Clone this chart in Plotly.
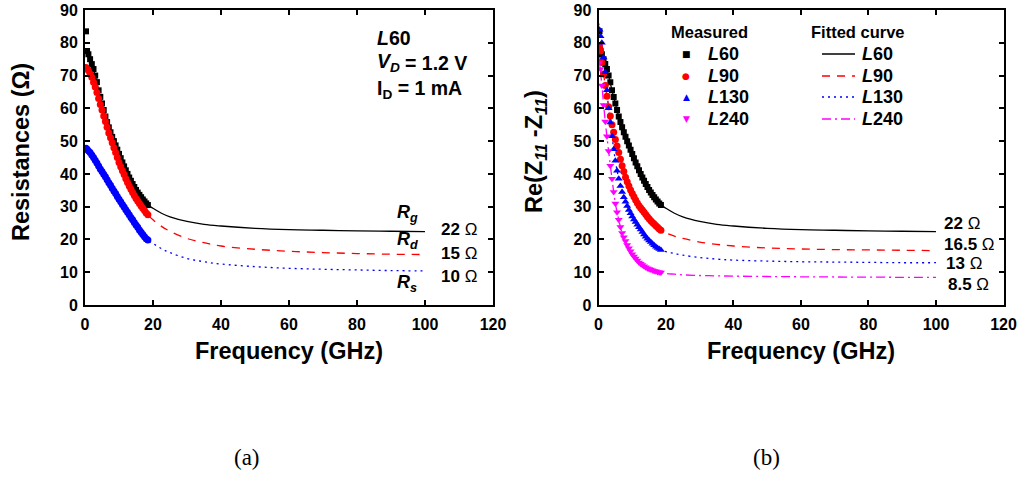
import plotly.graph_objects as go

W, H = 1025, 477

# ---- measured data (GHz, Ohm) ----
freq_meas = [0.3, 0.6] + [k * 0.5 for k in range(2, 38)]

rg_meas = [83.5, 77.5, 76.5, 75, 73.5, 72, 70, 68, 65.5, 63.5,
           61.5, 59.5, 57.5, 55.8, 54.2, 52.7, 51.3, 50, 48.7, 47.4,
           46.1, 44.8, 43.5, 42.3, 41.1, 40, 38.9, 37.9, 36.9, 36,
           35.1, 34.3, 33.6, 32.9, 32.2, 31.6, 31, 30.5]
rd_meas = [72.5, 72, 71.5, 70.5, 69.5, 68, 66.5, 64.8, 63, 61.2,
           59.5, 57.7, 56, 54.2, 52.5, 51, 49.5, 48, 46.5, 45,
           43.5, 42.2, 41, 39.8, 38.5, 37.4, 36.3, 35.3, 34.3, 33.4,
           32.5, 31.7, 31, 30.2, 29.5, 28.8, 28.1, 27.5]
rs_meas = [47.8, 47.5, 47, 46.5, 45.8, 45, 44.2, 43.3, 42.4, 41.5,
           40.7, 39.9, 39.1, 38.2, 37.3, 36.5, 35.6, 34.8, 34, 33.1,
           32.3, 31.5, 30.7, 29.9, 29.1, 28.3, 27.5, 26.7, 26, 25.2,
           24.4, 23.7, 22.9, 22.2, 21.5, 20.8, 20.2, 19.8]

l60_meas = rg_meas
l90_meas = [79, 77.5, 74, 70.5, 67, 63.7, 60.5, 57.7, 55, 52.7,
            50.5, 48.5, 46.5, 44.5, 42.5, 40.7, 39, 37.6, 36.3, 35.1,
            34, 33, 32, 31.1, 30.3, 29.6, 29, 28.3, 27.6, 26.9,
            26.3, 25.7, 25.2, 24.7, 24.2, 23.7, 23.2, 22.8]
l130_meas = [84, 82, 80, 75.5, 71, 65.5, 60, 55.7, 51.5, 47.5,
             44, 41, 38.5, 36.3, 34.5, 32.9, 31.5, 30.2, 29, 28,
             27, 26.1, 25.3, 24.5, 23.7, 23, 22.3, 21.5, 20.8, 20.2,
             19.7, 19.2, 18.7, 18.2, 17.8, 17.4, 17.1, 16.8]
l240_meas = [74, 72, 67, 61, 56, 51.5, 47, 42.5, 38.5, 34.5,
             31, 28.3, 26, 23.8, 22, 20.7, 19.5, 18.3, 17.3, 16.4,
             15.5, 14.8, 14.2, 13.6, 13, 12.6, 12.2, 11.8, 11.5, 11.2,
             11, 10.8, 10.6, 10.4, 10.3, 10.1, 10, 9.9]

# ---- fitted curves ----
freq_fit = [0, 1, 2, 3, 4, 5, 6, 7, 8, 9, 10, 12, 14, 16, 18,
            20, 22.5, 25, 30, 35, 40, 50, 60, 70, 80, 90, 100]
rg_fit = [77, 76, 73.5, 70, 65.5, 61.5, 57.5, 54.2, 51.3, 48.7, 46.1,
          41.1, 36.9, 33.6, 31,
          29.5, 28, 26.9, 25.5, 24.6, 24.1, 23.4, 23, 22.8, 22.6, 22.5, 22.4]
rd_fit = [73, 71.5, 69.5, 66.5, 63, 59.5, 56, 52.5, 49.5, 46.5, 43.5,
          38.5, 34.3, 31, 28.1,
          26, 24, 22.5, 20.3, 19, 18, 17, 16.4, 16, 15.7, 15.5, 15.4]
rs_fit = [48, 47.3, 45.8, 44.2, 42.4, 40.7, 39.1, 37.3, 35.6, 34, 32.3,
          29.1, 26, 22.9, 20.2,
          18.8, 17.2, 16, 14.2, 13.2, 12.5, 11.7, 11.2, 10.9, 10.7, 10.5, 10.4]
l60_fit = rg_fit
l90_fit = [80, 74, 67, 60.5, 55, 50.5, 46.5, 42.5, 39, 36.3, 34,
           30.3, 27.6, 25.2, 23.2,
           22, 21, 20.3, 19.2, 18.5, 18, 17.4, 17.1, 16.9, 16.8, 16.7, 16.6]
l130_fit = [86, 80, 71, 60, 51.5, 44, 38.5, 34.5, 31.5, 29, 27,
            23.7, 20.8, 18.7, 17.1,
            16.3, 15.7, 15.2, 14.5, 14, 13.7, 13.4, 13.2, 13.1, 13, 12.9, 12.9]
l240_fit = [77, 67, 56, 47, 38.5, 31, 26, 22, 19.5, 17.3, 15.5,
            13, 11.5, 10.6, 10,
            9.6, 9.4, 9.2, 9, 8.9, 8.8, 8.7, 8.6, 8.55, 8.5, 8.45, 8.4]

x_ticks = [0, 20, 40, 60, 80, 100, 120]
y_ticks = [0, 10, 20, 30, 40, 50, 60, 70, 80, 90]

BLACK, RED, BLUE, MAGENTA = "#000000", "#FF0000", "#0000FF", "#FF00FF"
DASH = "8px,7px"
DOT = "2px,4px"
DASHDOT = "9px,4px,2px,4px"
FONT = "Liberation Sans, Arial, sans-serif"
SERIF = "Liberation Serif, DejaVu Serif, serif"


def px(x):
    return x / W


def py(y):
    return 1 - y / H


fig = go.Figure()


def fit_line(x, y, color, dash, axis):
    fig.add_trace(go.Scatter(
        x=x, y=y, mode="lines", xaxis="x" + axis, yaxis="y" + axis,
        line=dict(color=color, width=1.3, dash=dash, shape="spline"),
        showlegend=False, hoverinfo="skip"))


def meas_pts(x, y, color, symbol, size, axis):
    fig.add_trace(go.Scatter(
        x=x, y=y, mode="markers", xaxis="x" + axis, yaxis="y" + axis,
        marker=dict(color=color, symbol=symbol, size=size, line=dict(width=0)),
        showlegend=False))


# panel (a)
fit_line(freq_fit, rs_fit, BLUE, DOT, "")
fit_line(freq_fit, rd_fit, RED, DASH, "")
fit_line(freq_fit, rg_fit, BLACK, "solid", "")
meas_pts(freq_meas, rs_meas, BLUE, "circle", 7, "")
meas_pts(freq_meas, rg_meas, BLACK, "square", 6, "")
meas_pts(freq_meas, rd_meas, RED, "circle", 7, "")

# panel (b)
fit_line(freq_fit, l240_fit, MAGENTA, DASHDOT, "2")
fit_line(freq_fit, l130_fit, BLUE, DOT, "2")
fit_line(freq_fit, l90_fit, RED, DASH, "2")
fit_line(freq_fit, l60_fit, BLACK, "solid", "2")
meas_pts(freq_meas, l60_meas, BLACK, "square", 6, "2")
meas_pts(freq_meas, l90_meas, RED, "circle", 7, "2")
meas_pts(freq_meas, l130_meas, BLUE, "triangle-up", 7, "2")
meas_pts(freq_meas, l240_meas, MAGENTA, "triangle-down", 7, "2")

axis_common = dict(
    showline=True, linecolor="black", linewidth=2, mirror="ticks",
    ticks="inside", ticklen=5, tickwidth=1.5, tickcolor="black",
    showgrid=False, zeroline=False, automargin=False,
    ticklabeloverflow="allow",
    tickfont=dict(family=FONT, size=16, color="black", weight="bold"),
)
ydom = [py(305), py(10)]
fig.update_layout(
    width=W, height=H, autosize=False,
    margin=dict(l=0, r=0, t=0, b=0),
    paper_bgcolor="white", plot_bgcolor="white",
    xaxis=dict(domain=[px(85), px(493)], range=[0, 120.01], tickvals=x_ticks,
               anchor="y", ticklabelstandoff=4, **axis_common),
    yaxis=dict(domain=ydom, range=[0, 90.01], tickvals=y_ticks,
               anchor="x", ticklabelstandoff=2, **axis_common),
    xaxis2=dict(domain=[px(598.5), px(1003.5)], range=[0, 120.01], tickvals=x_ticks,
                anchor="y2", ticklabelstandoff=4, **axis_common),
    yaxis2=dict(domain=ydom, range=[0, 90.01], tickvals=y_ticks,
                anchor="x2", ticklabelstandoff=2, **axis_common),
)

ann = []


def text(x, y, s, size=16, anchor="center", bold=True, italic=False,
         family=FONT, color="black", angle=0):
    ann.append(dict(
        x=px(x), y=py(y), xref="paper", yref="paper", text=s, showarrow=False,
        xanchor=anchor, yanchor="middle", textangle=angle,
        font=dict(family=family, size=size, color=color,
                  weight="bold" if bold else "normal",
                  style="italic" if italic else "normal")))


def device(x, y, num, size):
    # italic "L" followed by the upright gate length
    w = 0.611 * size
    text(x, y, "L", size=size, anchor="left", italic=True)
    text(x + w, y, num, size=size, anchor="left")


# axis titles
text(21, 152, "Resistances (Ω)", size=23.5, angle=-90)
text(289, 351, "Frequency (GHz)", size=23.5)
text(535, 152, "Re(Z<sub><i>11</i></sub> -Z<sub><i>11</i></sub>)", size=23.5, angle=-90)
text(801, 351, "Frequency (GHz)", size=23.5)

# panel (a) notes
device(375, 38, "60", 19.5)
text(375, 63, "V<sub>D</sub>", size=19.5, anchor="left", italic=True)
text(403, 63, "= 1.2 V", size=19.5, anchor="left")
text(375, 90, "I<sub>D</sub> = 1 mA", size=19.5, anchor="left")
text(407, 213, "R<sub>g</sub>", size=18, italic=True)
text(407, 240, "R<sub>d</sub>", size=18, italic=True)
text(407, 283, "R<sub>s</sub>", size=18, italic=True)
text(439, 230, "<b>22</b> Ω", size=17, anchor="left", bold=False)
text(439, 254, "<b>15</b> Ω", size=17, anchor="left", bold=False)
text(439, 276, "<b>10</b> Ω", size=17, anchor="left", bold=False)

# panel (b) end-value notes
text(942, 224, "<b>22</b> Ω", size=17, anchor="left", bold=False)
text(942, 244, "<b>16.5</b> Ω", size=17, anchor="left", bold=False)
text(944, 263, "<b>13</b> Ω", size=17, anchor="left", bold=False)
text(946, 284, "<b>8.5</b> Ω", size=17, anchor="left", bold=False)

# panel (b) key
text(709, 32, "Measured", size=16.5)
text(858, 32, "Fitted curve", size=16.5)
rows = [54, 76, 97, 119]
nums = ["60", "90", "130", "240"]
glyphs = ["■", "●", "▲", "▼"]
colors = [BLACK, RED, BLUE, MAGENTA]
dashes = ["solid", DASH, DOT, DASHDOT]
shapes = []
for yy, nm, gl, cl, ds in zip(rows, nums, glyphs, colors, dashes):
    text(686, yy, gl, size=9, family="DejaVu Sans", color=cl, bold=False)
    device(706, yy, nm, 18)
    device(860, yy, nm, 18)
    shapes.append(dict(type="line", xref="paper", yref="paper",
                       x0=px(822), x1=px(855), y0=py(yy), y1=py(yy),
                       line=dict(color=cl, width=1.3, dash=ds)))

# sub-figure captions
text(247, 457, "(a)", size=23, family=SERIF, bold=False)
text(766, 457, "(b)", size=23, family=SERIF, bold=False)

fig.update_layout(annotations=ann, shapes=shapes)
fig.write_html("out.html")
